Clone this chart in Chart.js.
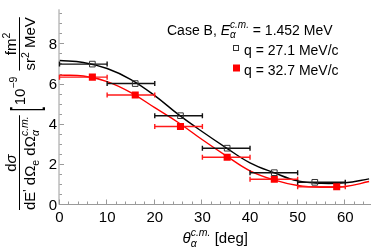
<!DOCTYPE html>
<html><head><meta charset="utf-8">
<script src="https://cdn.jsdelivr.net/npm/chart.js@4"></script>
<style>html,body{margin:0;padding:0;background:#fff}#wrap{width:376px;height:249px;position:relative}</style>
</head><body><div id="wrap"><canvas id="c" width="376" height="249"></canvas></div>
<script>
// ---- data ----
const binLow  = [0, 10, 20, 30, 40, 50];
const binHigh = [10, 20, 30, 40, 50, 60];
const thetaQ1 = [6.9, 15.9, 25.4, 35.2, 45.1, 53.6];
const sigmaQ1 = [6.97, 6.0, 4.40, 2.78, 1.56, 1.08];
const thetaQ2 = [6.9, 15.9, 25.4, 35.2, 45.1, 58.2];
const sigmaQ2 = [6.32, 5.43, 3.86, 2.33, 1.23, 0.86];
const curveTheta = [0, 5, 10, 15, 20, 25, 30, 35, 40, 45, 50, 55, 60, 65];
const curveQ1 = [7.15, 7.05, 6.75, 6.2, 5.4, 4.45, 3.6, 2.8, 2.05, 1.56, 1.15, 1.03, 1.06, 1.25];
const curveQ2 = [6.42, 6.38, 6.1, 5.55, 4.8, 4.05, 3.2, 2.4, 1.65, 1.2, 0.92, 0.83, 0.87, 1.12];
const xTicks = [0, 10, 20, 30, 40, 50, 60];
const yTicks = [0, 2, 4, 6, 8];
const seriesLabels = ['q = 27.1 MeV/c', 'q = 32.7 MeV/c'];

const FAM = '"Liberation Sans", Arial, sans-serif';
const AXC = '#9a9a9a';
function fnt(sz, it) { return (it ? 'italic ' : '') + sz + 'px ' + FAM; }
function rich(ctx, segs, x, y, draw) {
  let cx = x;
  for (const s of segs) {
    if (s.sub !== undefined || s.sup !== undefined) {
      let w = 0;
      if (s.sup) { ctx.font = fnt(s.ssz || 10, true); if (draw) ctx.fillText(s.sup, cx, y - (s.up || 7)); w = Math.max(w, ctx.measureText(s.sup).width); }
      if (s.sub) { ctx.font = fnt(s.ssz || 10, true); if (draw) ctx.fillText(s.sub, cx, y + (s.dn || 3.5)); w = Math.max(w, ctx.measureText(s.sub).width); }
      cx += w;
    } else {
      ctx.font = fnt(s.sz || 15, s.it);
      if (draw) ctx.fillText(s.t, cx, y + (s.dy || 0));
      cx += ctx.measureText(s.t).width;
    }
  }
  return cx - x;
}

const pts = (xs, ys) => xs.map((x, i) => ({x: x, y: ys[i]}));

const decor = {
  id: 'decor',
  beforeDatasetsDraw(chart) {
    const ctx = chart.ctx, xs = chart.scales.x, ys = chart.scales.y;
    const L = chart.chartArea.left, B = chart.chartArea.bottom;
    ctx.save();
    ctx.strokeStyle = AXC; ctx.lineWidth = 1;
    ctx.beginPath();
    ctx.moveTo(L - 0.5, B + 0.5); ctx.lineTo(chart.chartArea.right, B + 0.5);
    ctx.moveTo(L - 0.5, B + 0.5); ctx.lineTo(L - 0.5, chart.chartArea.top);
    for (let k = 0; k * 2 <= xs.max; k++) {
      const v = k * 2;
      const px = Math.round(xs.getPixelForValue(v)) - 0.5;
      const len = xTicks.includes(v) ? 4.5 : 2.5;
      ctx.moveTo(px, B); ctx.lineTo(px, B - len);
    }
    for (let k = 0; k * 0.5 <= ys.max; k++) {
      const v = k * 0.5;
      const py = Math.round(ys.getPixelForValue(v)) + 0.5;
      const len = yTicks.includes(v) ? 4.5 : 2.5;
      ctx.moveTo(L, py); ctx.lineTo(L + len, py);
    }
    ctx.stroke();
    ctx.fillStyle = '#000';
    ctx.font = fnt(15);
    ctx.textAlign = 'center'; ctx.textBaseline = 'alphabetic';
    xTicks.forEach(v => ctx.fillText(String(v), xs.getPixelForValue(v), B + 17.5));
    ctx.restore();
  },
  afterDatasetDraw(chart, args) {
    if (args.index !== 2) return;
    const ctx = chart.ctx, xs = chart.scales.x, ys = chart.scales.y;
    ctx.save();
    const sets = [[sigmaQ2, '#ff1a1a'], [sigmaQ1, '#111']];
    for (const [vals, col] of sets) {
      ctx.strokeStyle = col; ctx.lineWidth = 1.4;
      ctx.beginPath();
      vals.forEach((v, i) => {
        const py = ys.getPixelForValue(v);
        const x1 = xs.getPixelForValue(binLow[i]), x2 = xs.getPixelForValue(binHigh[i]);
        ctx.moveTo(x1, py); ctx.lineTo(x2, py);
        ctx.moveTo(x1, py - 2.5); ctx.lineTo(x1, py + 2.5);
        ctx.moveTo(x2, py - 2.5); ctx.lineTo(x2, py + 2.5);
      });
      ctx.stroke();
    }
    ctx.restore();
  },
  afterDraw(chart) {
    const ctx = chart.ctx, H = chart.height;
    const ca = chart.chartArea;
    ctx.save();
    ctx.fillStyle = '#000'; ctx.textBaseline = 'alphabetic'; ctx.textAlign = 'left';
    // legend
    rich(ctx, [{t: 'Case B, ', sz: 14}, {t: 'E', sz: 14, it: true}, {sub: 'α', sup: 'c.m.', ssz: 10, up: 7, dn: 3}, {t: ' = 1.452 MeV', sz: 14}], 167, 35, true);
    ctx.font = fnt(14);
    ctx.fillText(seriesLabels[0], 244, 54.5);
    ctx.fillText(seriesLabels[1], 244, 74.5);
    ctx.strokeStyle = '#333'; ctx.lineWidth = 1;
    ctx.strokeRect(233.5, 45.5, 5, 5);
    ctx.fillStyle = '#ff0000';
    ctx.fillRect(233, 64.5, 7, 7);
    ctx.fillStyle = '#000';
    // x title
    const xseg = [{t: 'θ', it: true, sz: 15}, {sub: 'α', sup: 'c.m.', ssz: 10.5, up: 7, dn: 4}, {t: ' [deg]', sz: 15}];
    const wx = rich(ctx, xseg, 0, 0, false);
    rich(ctx, xseg, (ca.left + ca.right) / 2 - wx / 2, 243, true);
    // y title (rotated)
    ctx.translate(0, H); ctx.rotate(-Math.PI / 2);
    const a0 = 39;
    const den = [{t: 'dE', sz: 15}, {t: "'", sz: 12, dy: -3}, {t: ' dΩ', sz: 15}, {t: 'e', sz: 10.5, dy: 4}, {t: ' dΩ', sz: 15}, {sub: 'α', sup: 'c.m.', ssz: 10.5, up: 7, dn: 4}];
    const wD = rich(ctx, den, a0, 35, true);
    const num = [{t: 'd', sz: 15}, {t: 'σ', sz: 15, it: true}];
    const wN = rich(ctx, num, 0, 0, false);
    rich(ctx, num, a0 + wD / 2 - wN / 2, 16, true);
    ctx.strokeStyle = '#000'; ctx.lineWidth = 1;
    ctx.beginPath(); ctx.moveTo(a0, 19.5); ctx.lineTo(a0 + wD + 1, 19.5); ctx.stroke();
    let a = a0 + wD + 5;
    ctx.font = fnt(15);
    ctx.save();
    ctx.translate(a, 0); ctx.scale(1, 2.4);
    ctx.fillText('[', 0, 15.5);
    ctx.restore();
    a += 6;
    a += rich(ctx, [{t: '10', sz: 15}, {t: '−9', sz: 10.5, dy: -8}], a, 25, true) + 6;
    const fn = [{t: 'fm', sz: 15}, {t: '2', sz: 10.5, dy: -6}];
    const fd = [{t: 'sr', sz: 15}, {t: '2', sz: 10.5, dy: -6}, {t: ' MeV', sz: 15}];
    const wfn = rich(ctx, fn, 0, 0, false), wfd = rich(ctx, fd, 0, 0, false);
    const wf = Math.max(wfn, wfd);
    rich(ctx, fn, a + wf / 2 - wfn / 2, 16, true);
    rich(ctx, fd, a + wf / 2 - wfd / 2, 35, true);
    ctx.beginPath(); ctx.moveTo(a, 19.5); ctx.lineTo(a + wf, 19.5); ctx.stroke();
    ctx.restore();
  }
};

const yLabels = {
  id: 'yLabels',
  afterDraw(chart) {
    const ctx = chart.ctx, ys = chart.scales.y, ca = chart.chartArea;
    ctx.save();
    ctx.setTransform(1, 0, 0, 1, 0, 0);
    ctx.fillStyle = '#000';
    ctx.font = '15px "Liberation Sans"';
    ctx.textAlign = 'right';
    ctx.textBaseline = 'alphabetic';
    yTicks.forEach(v => ctx.fillText(String(v), ca.left - 2.5, ys.getPixelForValue(v) + 5.5));
    ctx.restore();
  }
};

new Chart(document.getElementById('c'), {
  type: 'scatter',
  data: {
    datasets: [
      {label: seriesLabels[0], data: pts(thetaQ1, sigmaQ1), pointStyle: 'rect', pointRadius: 4, borderWidth: 1, borderColor: '#333', backgroundColor: 'rgba(0,0,0,0)', showLine: false},
      {label: seriesLabels[1], data: pts(thetaQ2, sigmaQ2), pointStyle: 'rect', pointRadius: 5, borderWidth: 0, borderColor: '#ff0000', backgroundColor: '#ff0000', showLine: false},
      {label: 'fit1', data: pts(curveTheta, curveQ1), showLine: true, pointRadius: 0, borderColor: '#000', borderWidth: 1.4, tension: 0.4, fill: false},
      {label: 'fit2', data: pts(curveTheta, curveQ2), showLine: true, pointRadius: 0, borderColor: '#ff0000', borderWidth: 1.4, tension: 0.4, fill: false}
    ]
  },
  options: {
    responsive: false, animation: false, devicePixelRatio: 1,
    layout: {padding: {left: 37.5, top: 9.3, right: 0, bottom: 23}},
    plugins: {legend: {display: false}, tooltip: {enabled: false}},
    scales: {
      x: {
        type: 'linear', min: 0, max: 65.4,
        grid: {display: false, drawTicks: false},
        border: {display: false},
        ticks: {display: false},
        afterFit(s) { s.height = 22; s.paddingLeft = 0; s.paddingRight = 0; }
      },
      y: {
        type: 'linear', min: 0, max: 9.7,
        grid: {display: false, drawTicks: false},
        border: {display: false},
        ticks: {display: false},
        afterFit(s) { s.width = 22; s.paddingTop = 0; s.paddingBottom = 0; }
      }
    }
  },
  plugins: [decor, yLabels]
});
</script></body></html>
